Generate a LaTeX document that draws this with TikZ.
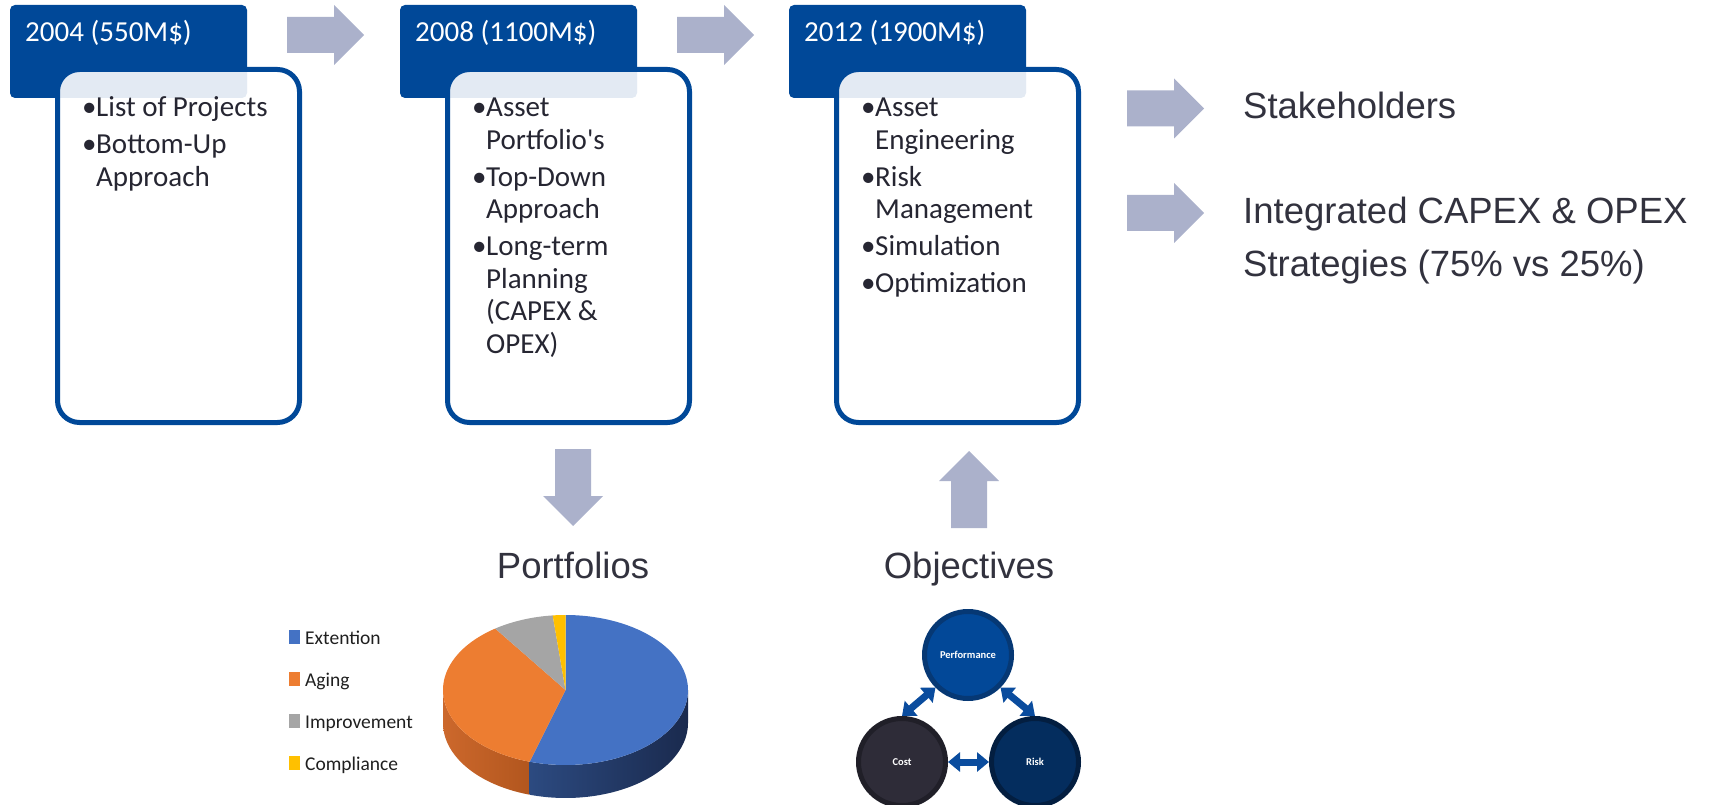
\documentclass[tikz,border=0pt]{standalone}
\usepackage{fontspec}
\setmainfont{Carlito}
\newfontfamily\arialf{Liberation Sans}
\usetikzlibrary{arrows.meta}
\font\carlraw="Carlito" at 29pt
\definecolor{hblue}{RGB}{0,72,152}
\definecolor{arrowc}{RGB}{171,177,203}
\definecolor{btxt}{RGB}{38,38,50}
\definecolor{rtxt}{RGB}{50,50,62}
\definecolor{pblue}{RGB}{68,114,196}
\definecolor{porange}{RGB}{237,125,49}
\definecolor{pgray}{RGB}{165,165,165}
\definecolor{pyellow}{RGB}{255,192,0}
\definecolor{oside1}{RGB}{204,104,44}
\definecolor{oside2}{RGB}{178,86,30}
\definecolor{bside1}{RGB}{44,74,128}
\definecolor{bside2}{RGB}{26,42,78}
\definecolor{perfF}{RGB}{2,72,152}
\definecolor{perfD}{RGB}{6,56,116}
\definecolor{costF}{RGB}{46,44,56}
\definecolor{costD}{RGB}{32,31,40}
\definecolor{riskF}{RGB}{4,45,94}
\definecolor{riskD}{RGB}{3,30,64}
\definecolor{dblc}{RGB}{10,76,158}
\newcommand{\bulx}{\makebox[14pt][l]{•}}
\newcommand{\contx}{\hspace*{14pt}}
\newcommand{\gapx}{\vskip4.5pt}
\newcommand{\sqx}{{\carlraw\char"27}}
\def\pcx{565.5}\def\pcy{690}\def\prx{122.5}\def\pry{75}\def\pd{33}
\begin{document}
\begin{tikzpicture}[x=1pt,y=-1pt,
  header/.style={rectangle,rounded corners=5pt,fill=hblue,draw=none,minimum width=237pt,minimum height=93pt,inner sep=0pt,outer sep=0pt},
  wbox/.style={rectangle,rounded corners=22pt,draw=hblue,line width=5pt,fill=white,fill opacity=0.89,draw opacity=1,minimum width=242pt,minimum height=353pt,inner sep=0pt},
  htext/.style={anchor=base west,inner sep=0pt,text=white,font=\fontsize{29}{32.5}\selectfont},
  btext/.style={anchor=base west,inner sep=0pt,text=btxt,font=\fontsize{29}{32.5}\selectfont},
  rtext/.style={anchor=base west,inner sep=0pt,text=rtxt,font=\arialf\fontsize{36.5}{53}\selectfont},
  ltext/.style={anchor=base west,inner sep=0pt,text=black!88,font=\fontsize{19.5}{22}\selectfont},
  ocirc/.style={circle,minimum size=87pt,line width=5pt,inner sep=0pt,text=white,font=\bfseries\fontsize{10.5}{12}\selectfont},
  dbl/.style={draw=dblc,line width=7pt,{Triangle[length=12pt,width=19pt]}-{Triangle[length=12pt,width=19pt]}},
  barrow/.pic={\fill[arrowc] (0,-18) -- (47,-18) -- (47,-30) -- (77,0) -- (47,30) -- (47,18) -- (0,18) -- cycle;}
]
\useasboundingbox (0,0) rectangle (1714,805);

% timeline boxes
\node[header] (h1) at (128.5,51.5) {};
\node[header] (h2) at (518.5,51.5) {};
\node[header] (h3) at (907.5,51.5) {};
\node[wbox] (w1) at (178.5,246) {};
\node[wbox] (w2) at (568.5,246) {};
\node[wbox] (w3) at (957.5,246) {};
\node[htext] (ht1) at (25,42) {2004 (550M\$)};
\node[htext] (ht2) at (415,42) {2008 (1100M\$)};
\node[htext] (ht3) at (804,42) {2012 (1900M\$)};

\node[btext] (bt1) at (82,117) {\vtop{\hbox{\bulx List of Projects}\gapx\hbox{\bulx Bottom-Up}\hbox{\contx Approach}}};
\node[btext] (bt2) at (472,117) {\vtop{\hbox{\bulx Asset}\hbox{\contx Portfolio\sqx s}\gapx\hbox{\bulx Top-Down}\hbox{\contx Approach}\gapx\hbox{\bulx Long-term}\hbox{\contx Planning}\hbox{\contx (CAPEX \&}\hbox{\contx OPEX)}}};
\node[btext] (bt3) at (861,117) {\vtop{\hbox{\bulx Asset}\hbox{\contx Engineering}\gapx\hbox{\bulx Risk}\hbox{\contx Management}\gapx\hbox{\bulx Simulation}\gapx\hbox{\bulx Optimization}}};

% block arrows
\pic at (287,35) {barrow};
\pic at (677,35) {barrow};
\pic at (1127,108.5) {barrow};
\pic at (1127,213) {barrow};
\pic[rotate=-90] at (573,449) {barrow};
\pic[rotate=90] at (969,528) {barrow};

% right texts
\node[rtext] (stake) at (1243,119) {Stakeholders};
\node[rtext] (integ) at (1243,224) {\vtop{\hbox{Integrated CAPEX \& OPEX}\hbox{Strategies (75\% vs 25\%)}}};
\node[rtext,anchor=base] (portf) at (573,578) {Portfolios};
\node[rtext,anchor=base] (objec) at (969,578) {Objectives};

% pie chart sides
\shade[left color=oside1,right color=oside2]
  plot[domain=180:253,samples=40] ({\pcx+\prx*cos(\x)},{\pcy-\pry*sin(\x)})
  -- plot[domain=253:180,samples=40] ({\pcx+\prx*cos(\x)},{\pcy+\pd-\pry*sin(\x)}) -- cycle;
\shade[left color=bside1,right color=bside2]
  plot[domain=253:360,samples=60] ({\pcx+\prx*cos(\x)},{\pcy-\pry*sin(\x)})
  -- plot[domain=360:253,samples=60] ({\pcx+\prx*cos(\x)},{\pcy+\pd-\pry*sin(\x)}) -- cycle;
% pie top
\fill[pblue] (\pcx,\pcy) -- plot[domain=90:-107,samples=90] ({\pcx+\prx*cos(\x)},{\pcy-\pry*sin(\x)}) -- cycle;
\fill[porange] (\pcx,\pcy) -- plot[domain=125:253,samples=60] ({\pcx+\prx*cos(\x)},{\pcy-\pry*sin(\x)}) -- cycle;
\fill[pgray] (\pcx,\pcy) -- plot[domain=96:125,samples=20] ({\pcx+\prx*cos(\x)},{\pcy-\pry*sin(\x)}) -- cycle;
\fill[pyellow] (\pcx,\pcy) -- plot[domain=90:96,samples=8] ({\pcx+\prx*cos(\x)},{\pcy-\pry*sin(\x)}) -- cycle;

% legend
\fill[pblue] (289,630) rectangle (300,644);
\fill[porange] (289,672) rectangle (300,686);
\fill[pgray] (289,714) rectangle (300,728);
\fill[pyellow] (289,756) rectangle (300,770);
\node[ltext] (l1) at (305,644) {Extention};
\node[ltext] (l2) at (305,686) {Aging};
\node[ltext] (l3) at (305,728) {Improvement};
\node[ltext] (l4) at (305,770) {Compliance};

% objectives
\node[ocirc,fill=perfF,draw=perfD] (perf) at (968,655) {Performance};
\node[ocirc,fill=costF,draw=costD] (cost) at (902,762) {Cost};
\node[ocirc,fill=riskF,draw=riskD] (risk) at (1035,762) {Risk};
\draw[dbl] (perf.225) -- (cost.90);
\draw[dbl] (perf.-45) -- (risk.90);
\draw[dbl] (cost.east) -- (risk.west);
\end{tikzpicture}
\end{document}
